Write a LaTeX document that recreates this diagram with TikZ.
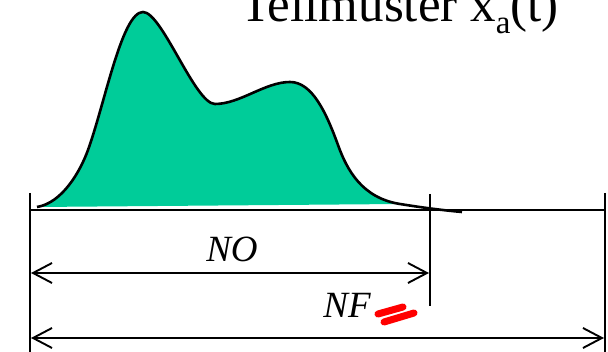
\documentclass[tikz,border=0pt]{standalone}
\usepackage{fontspec}
\setmainfont{Liberation Serif}
\usetikzlibrary{arrows.meta}
\definecolor{tmfill}{HTML}{00CC99}
\definecolor{tmmark}{HTML}{FF0000}
\tikzset{
  rule/.style   = {line width=1.9pt},
  curve/.style  = {line width=2.6pt, line join=round},
  dimar/.style  = {{Straight Barb[length=19pt,width=20pt]}-{Straight Barb[length=19pt,width=20pt]},
                   line width=1.9pt},
  lbl/.style    = {font=\fontsize{37}{37}\selectfont\itshape, inner sep=0pt, anchor=base},
  ttl/.style    = {font=\fontsize{51}{51}\selectfont, inner sep=0pt, anchor=base west},
  redstroke/.style = {draw=tmmark, line width=7pt, line cap=round},
}
\begin{document}
\begin{tikzpicture}[x=1pt,y=-1pt]
\useasboundingbox (0,0) rectangle (608,352);

% -- end points of the rules and the dimension arrows ------------------------
\coordinate (lTop) at (30,193);  \coordinate (lBot) at (30,352);
\coordinate (mTop) at (430,194); \coordinate (mBot) at (430,306);
\coordinate (rTop) at (605,193); \coordinate (rBot) at (605,352);
\coordinate (bL)   at (30,210);  \coordinate (bR)   at (605,210);
\coordinate (noL)  at (31,273);  \coordinate (noR)  at (429,273);
\coordinate (nfL)  at (31,338);  \coordinate (nfR)  at (604,338);

% -- the pattern x_a(t) --------------------------------------------------------
\def\pattern{(37,207) .. controls (62,203) and (80,172) .. (88,150)
  .. controls (105,103) and (122,12) .. (143,12)
  .. controls (162,12) and (195,104) .. (215,104)
  .. controls (240,104) and (265,82) .. (290,82)
  .. controls (312,82) and (326,112) .. (338,145)
  .. controls (347,170) and (362,198) .. (400,204)}
\fill[tmfill] \pattern -- cycle;
\draw[curve] \pattern .. controls (420,207.2) and (440,210) .. (462,212);

% -- rules -------------------------------------------------------------------
\draw[rule] (bL) -- (bR);
\draw[rule] (lTop) -- (lBot);
\draw[rule] (mTop) -- (mBot);
\draw[rule] (rTop) -- (rBot);

% -- dimensions --------------------------------------------------------------
\draw[dimar] (noL) -- (noR);
\draw[dimar] (nfL) -- (nfR);
\node[lbl] (no) at (232,262) {NO};
\node[lbl] (nf) at (347,318) {NF};

% -- title -------------------------------------------------------------------
\node[ttl] (title) at (240,22)
  {Teilmuster x\raisebox{-0.23em}{\fontsize{33}{33}\selectfont a}(t)};

% -- red marks ---------------------------------------------------------------
\draw[redstroke] (378,314) -- (403,307);
\draw[redstroke] (384,322) -- (414,313);

\end{tikzpicture}
\end{document}
